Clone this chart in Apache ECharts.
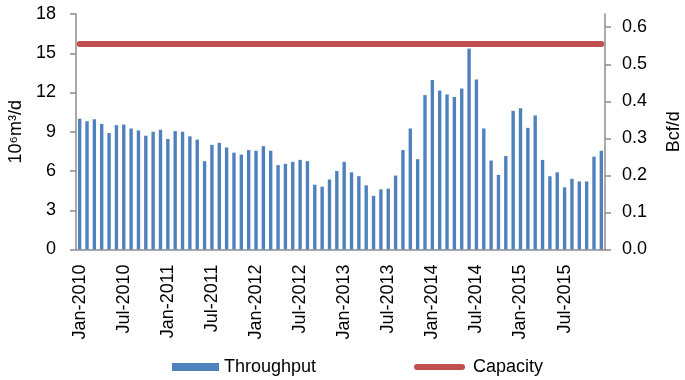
<!DOCTYPE html>
<html>
<head>
<meta charset="utf-8">
<script src="https://cdn.jsdelivr.net/npm/echarts@6/dist/echarts.min.js"></script>
<style>
html,body{margin:0;padding:0;background:#fff;}
#chart{width:685px;height:380px;}
</style>
</head>
<body>
<div id="chart"></div>
<script>
// ---- data ----
var monthNames = ['Jan','Feb','Mar','Apr','May','Jun','Jul','Aug','Sep','Oct','Nov','Dec'];
var years = [2010, 2011, 2012, 2013, 2014, 2015];
var categories = [];
years.forEach(function (y) { monthNames.forEach(function (m) { categories.push(m + '-' + y); }); });

// Throughput, 10^6 m3/d, monthly Jan-2010 .. Dec-2015
var throughput2010 = [10.0, 9.8, 9.95, 9.6, 8.9, 9.5, 9.55, 9.25, 9.1, 8.7, 9.0, 9.15];
var throughput2011 = [8.45, 9.05, 9.0, 8.65, 8.4, 6.75, 8.0, 8.15, 7.8, 7.4, 7.25, 7.6];
var throughput2012 = [7.55, 7.9, 7.55, 6.45, 6.55, 6.7, 6.85, 6.75, 4.95, 4.8, 5.35, 6.0];
var throughput2013 = [6.7, 5.9, 5.6, 4.9, 4.1, 4.6, 4.65, 5.65, 7.6, 9.25, 6.9, 11.8];
var throughput2014 = [12.95, 12.15, 11.85, 11.65, 12.3, 15.35, 13.0, 9.25, 6.8, 5.7, 7.15, 10.6];
var throughput2015 = [10.8, 9.3, 10.25, 6.85, 5.6, 5.9, 4.75, 5.4, 5.2, 5.2, 7.1, 7.55];
var throughput = [].concat(throughput2010, throughput2011, throughput2012, throughput2013, throughput2014, throughput2015);

// Capacity, 10^6 m3/d (constant)
var capacity = 15.7;

// Axis ticks
var leftTicks = [0, 3, 6, 9, 12, 15, 18];
var rightTicks = [0, 0.1, 0.2, 0.3, 0.4, 0.5, 0.6];
var bcfPerMm3 = 0.6357 / 18; // 18 x10^6 m3/d = 0.6357 Bcf/d

var FONT = "'Liberation Sans', Arial, sans-serif";
var AXIS_COLOR = '#8c8c8c';

var chart = echarts.init(document.getElementById('chart'), null, {renderer: 'canvas'});
chart.setOption({
  animation: false,
  backgroundColor: '#ffffff',
  textStyle: {fontFamily: FONT, color: '#000'},
  grid: {left: 76, right: 80, top: 14, bottom: 130.5, containLabel: false, outerBoundsMode: 'none'},
  legend: [{
    left: 167, top: 353,
    itemWidth: 47, itemHeight: 8,
    textStyle: {fontFamily: FONT, fontSize: 18, color: '#000'},
    data: [{name: 'Throughput', icon: 'rect'}]
  }, {
    left: 409, top: 353,
    itemWidth: 51, itemHeight: 6,
    textStyle: {fontFamily: FONT, fontSize: 18, color: '#000', padding: [0, 0, 0, 3]},
    data: [{name: 'Capacity', icon: 'path://M3,0 L48,0 A3,3 0 0 1 48,6 L3,6 A3,3 0 0 1 3,0 Z'}]
  }],
  xAxis: {
    type: 'category',
    data: categories,
    boundaryGap: true,
    axisLine: {lineStyle: {color: AXIS_COLOR, width: 1.5}},
    axisTick: {interval: 5, length: 5, lineStyle: {color: AXIS_COLOR, width: 1.5}},
    axisLabel: {interval: 5, rotate: 90, margin: 15, fontSize: 18, fontFamily: FONT, color: '#000'},
    splitLine: {show: false}
  },
  yAxis: [{
    type: 'value', min: 0, max: 18, interval: 3,
    name: '10\u2076m\u00b3/d', nameLocation: 'middle', nameGap: 38, nameRotate: 90,
    nameTextStyle: {fontFamily: FONT, fontSize: 18, color: '#000'},
    axisLine: {show: true, lineStyle: {color: AXIS_COLOR, width: 1.5}},
    axisTick: {show: true, length: 6, lineStyle: {color: AXIS_COLOR, width: 1.5}},
    axisLabel: {margin: 20, fontSize: 18, fontFamily: FONT, color: '#000', customValues: leftTicks},
    splitLine: {show: false}
  }, {
    type: 'value', min: 0, max: 18 * bcfPerMm3, position: 'right',
    name: 'Bcf/d', nameLocation: 'middle', nameGap: 60, nameRotate: 90,
    nameTextStyle: {fontFamily: FONT, fontSize: 18, color: '#000'},
    axisLine: {show: true, lineStyle: {color: AXIS_COLOR, width: 1.5}},
    axisTick: {show: true, length: 6, customValues: rightTicks, lineStyle: {color: AXIS_COLOR, width: 1.5}},
    axisLabel: {margin: 17, fontSize: 18, fontFamily: FONT, color: '#000', customValues: rightTicks,
      formatter: function (v) { return v.toFixed(1); }},
    splitLine: {show: false}
  }],
  series: [{
    name: 'Throughput',
    type: 'bar',
    data: throughput,
    barWidth: '46%',
    itemStyle: {color: '#4F81BD'}
  }, {
    name: 'Capacity',
    type: 'line',
    data: [[categories[0], capacity], [categories[categories.length - 1], capacity]],
    symbol: 'none',
    lineStyle: {color: '#C0504D', width: 6, cap: 'round'},
    itemStyle: {color: '#C0504D'}
  }]
});
</script>
</body>
</html>
